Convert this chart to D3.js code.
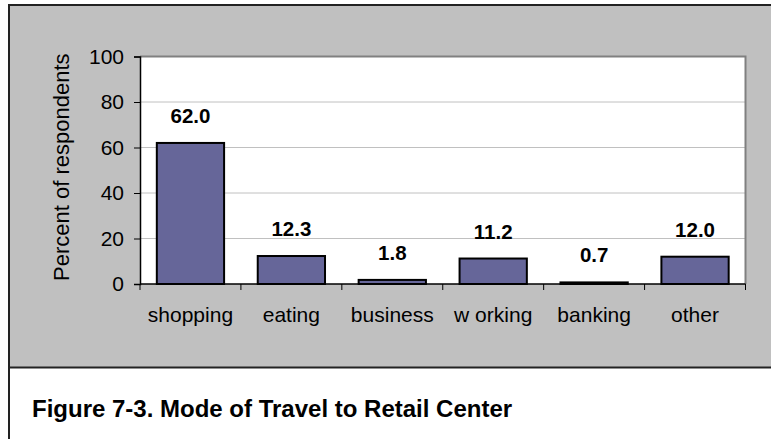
<!DOCTYPE html>
<html>
<head>
<meta charset="utf-8">
<script src="https://cdn.jsdelivr.net/npm/d3@7"></script>
<style>
  html, body { margin: 0; padding: 0; background: #fff; }
  svg { display: block; }
</style>
</head>
<body>
<svg id="chart" width="771" height="439"></svg>
<script>
// Trip purpose shares (percent of respondents)
const categories = ["shopping", "eating", "business", "w orking", "banking", "other"];
const values = [62.0, 12.3, 1.8, 11.2, 0.7, 12.0];
const yTicks = [0, 20, 40, 60, 80, 100];
const yTitle = "Percent of respondents";
const caption = "Figure 7-3. Mode of Travel to Retail Center";

const svg = d3.select("#chart");
const W = 771, H = 439;
const FONT = "Liberation Sans, Arial, sans-serif";

// chart frame
const frame = { left: 9, top: 5, bottom: 367.5 };
svg.append("rect")
  .attr("x", frame.left).attr("y", frame.top)
  .attr("width", W - frame.left + 5).attr("height", frame.bottom - frame.top)
  .attr("fill", "#c0c0c0");
svg.append("line")
  .attr("x1", frame.left).attr("x2", W).attr("y1", frame.top).attr("y2", frame.top)
  .attr("stroke", "#222").attr("stroke-width", 2);
svg.append("line")
  .attr("x1", frame.left).attr("x2", W).attr("y1", frame.bottom).attr("y2", frame.bottom)
  .attr("stroke", "#222").attr("stroke-width", 2);
svg.append("line")
  .attr("x1", frame.left).attr("x2", frame.left).attr("y1", frame.top - 1).attr("y2", H)
  .attr("stroke", "#222").attr("stroke-width", 2);

// plot area
const plot = { left: 140, right: 745.5, top: 56.5, bottom: 284 };

const x = d3.scaleBand()
  .domain(categories)
  .range([plot.left, plot.right])
  .paddingInner(1 / 3)
  .paddingOuter(1 / 6);

const y = d3.scaleLinear()
  .domain([0, 100])
  .range([plot.bottom, plot.top]);

svg.append("rect")
  .attr("x", plot.left).attr("y", plot.top)
  .attr("width", plot.right - plot.left).attr("height", plot.bottom - plot.top)
  .attr("fill", "#fff");

// gridlines
svg.append("g")
  .selectAll("line")
  .data(yTicks.filter(t => t > 0 && t < 100))
  .join("line")
  .attr("x1", plot.left).attr("x2", plot.right)
  .attr("y1", d => y(d)).attr("y2", d => y(d))
  .attr("stroke", "#c0c0c0").attr("stroke-width", 1);

// plot border (top and right)
svg.append("path")
  .attr("d", `M${plot.left},${plot.top}H${plot.right}V${plot.bottom}`)
  .attr("fill", "none").attr("stroke", "#808080").attr("stroke-width", 2);

// bars
svg.append("g")
  .selectAll("rect")
  .data(values)
  .join("rect")
  .attr("x", (d, i) => x(categories[i]))
  .attr("y", d => y(d))
  .attr("width", x.bandwidth())
  .attr("height", d => y(0) - y(d))
  .attr("fill", "#666699")
  .attr("stroke", "#000")
  .attr("stroke-width", 2);

// value labels
svg.append("g")
  .selectAll("text")
  .data(values)
  .join("text")
  .attr("x", (d, i) => x(categories[i]) + x.bandwidth() / 2)
  .attr("y", d => y(d) - 20)
  .attr("text-anchor", "middle")
  .attr("font-family", FONT)
  .attr("font-weight", "bold")
  .attr("font-size", 20.5)
  .attr("fill", "#000")
  .text(d => d.toFixed(1));

// y axis
const yAxis = svg.append("g")
  .attr("transform", `translate(${plot.left},0)`)
  .call(d3.axisLeft(y).tickValues(yTicks).tickSize(6).tickPadding(10).tickFormat(d3.format("d")));
yAxis.select(".domain").attr("stroke", "#000").attr("stroke-width", 1.5);
yAxis.selectAll(".tick line").attr("stroke", "#000").attr("stroke-width", 1);
yAxis.selectAll(".tick text")
  .attr("font-family", FONT)
  .attr("font-size", 21).attr("fill", "#000");

// x axis: labels centred on bars, ticks at category boundaries
const xAxis = svg.append("g")
  .attr("transform", `translate(0,${plot.bottom})`)
  .call(d3.axisBottom(x).tickSize(0).tickPadding(23));
xAxis.select(".domain").remove();
xAxis.selectAll(".tick text")
  .attr("font-family", FONT)
  .attr("font-size", 21).attr("fill", "#000");
svg.append("line")
  .attr("x1", plot.left).attr("x2", plot.right)
  .attr("y1", plot.bottom).attr("y2", plot.bottom)
  .attr("stroke", "#000").attr("stroke-width", 1.5);
svg.append("g")
  .selectAll("line")
  .data(categories.map((c, i) => plot.left + i * x.step()).concat([plot.right]))
  .join("line")
  .attr("x1", d => d).attr("x2", d => d)
  .attr("y1", plot.bottom).attr("y2", plot.bottom + 6)
  .attr("stroke", "#000").attr("stroke-width", 1);

// y axis title
svg.append("text")
  .attr("transform", `translate(69,${(plot.top + plot.bottom) / 2 - 3}) rotate(-90)`)
  .attr("text-anchor", "middle")
  .attr("font-family", FONT)
  .attr("font-size", 22)
  .attr("fill", "#000")
  .text(yTitle);

// caption
svg.append("text")
  .attr("x", 32).attr("y", 416.5)
  .attr("font-family", FONT)
  .attr("font-weight", "bold")
  .attr("font-size", 24)
  .attr("fill", "#000")
  .text(caption);
</script>
</body>
</html>
